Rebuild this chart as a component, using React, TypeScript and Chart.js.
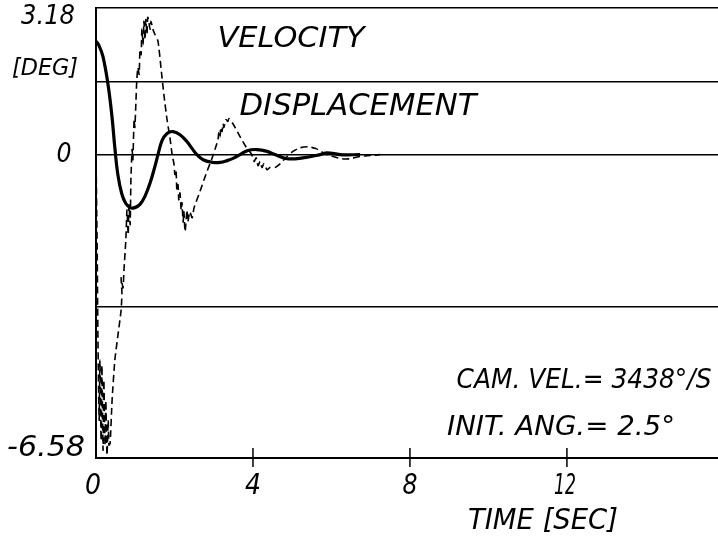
import { useEffect, useRef } from "react";
import { Chart, registerables } from "chart.js";

Chart.register(...registerables);

// ---- data ----
const yGridValues = [-6.58, -3.29, 0, 1.59, 3.18];
const yLabelTexts = ["3.18", "0", "-6.58"];
const yUnitText = "[DEG]";
const xTickValues = [0, 4, 8, 12];
const xTickTexts = ["0", "4", "8", "12"];
const xMarkedTicks = [4, 8, 12];
const xTitle = "TIME [SEC]";
const seriesNames = ["VELOCITY", "DISPLACEMENT"];
const noteTexts = ["CAM. VEL.= 3438°/S", "INIT. ANG.= 2.5°"];

const dispTime = [
  0, 0.08, 0.18, 0.31, 0.41, 0.48, 0.56, 0.66, 0.76, 0.87,
  0.99, 1.12, 1.25, 1.38, 1.5, 1.58, 1.68, 1.81, 1.96, 2.14,
  2.32, 2.45, 2.57, 2.73, 2.98, 3.16, 3.34, 3.52, 3.67, 3.87,
  4.1, 4.36, 4.56, 4.87, 5.27, 5.71, 5.89, 6.22, 6.73,
];
const dispDeg = [
  2.46, 2.36, 2.12, 1.5, 0.8, 0.15, -0.45, -0.86, -1.06, -1.15,
  -1.15, -1.08, -0.9, -0.61, -0.26, 0, 0.3, 0.46, 0.5, 0.43,
  0.28, 0.13, 0, -0.11, -0.17, -0.17, -0.13, -0.07, 0, 0.09,
  0.11, 0.07, 0, -0.09, -0.07, 0, 0.04, 0, 0,
];

const velTime = [
  0, 0.03, 0.05, 0.08, 0.1, 0.13, 0.15, 0.18, 0.2, 0.23,
  0.25, 0.28, 0.31, 0.33, 0.36, 0.41, 0.48, 0.56, 0.64, 0.66,
  0.64, 0.69, 0.71, 0.76, 0.79, 0.82, 0.84, 0.87, 0.89, 0.92,
  0.94, 0.97, 0.99, 1.02, 1.04, 1.07, 1.1, 1.12, 1.15, 1.17,
  1.2, 1.22, 1.25, 1.27, 1.3, 1.32, 1.38, 1.4, 1.45, 1.5,
  1.58, 1.66, 1.73, 1.81, 1.89, 1.94, 1.99, 2.01, 2.04, 2.06,
  2.09, 2.11, 2.14, 2.17, 2.19, 2.22, 2.24, 2.27, 2.32, 2.34,
  2.39, 2.45, 2.5, 2.65, 2.8, 2.96, 3.03, 3.11, 3.13, 3.16,
  3.18, 3.21, 3.24, 3.26, 3.31, 3.36, 3.39, 3.49, 3.67, 3.82,
  3.97, 4.03, 4.08, 4.13, 4.18, 4.23, 4.28, 4.36, 4.43, 4.56,
  4.69, 4.87, 5.02, 5.2, 5.4, 5.61, 5.83, 6.04, 6.27, 6.47,
  6.73, 6.98, 7.24,
];
const velDeg = [
  0, -2.07, -4.02, -5.76, -4.46, -6.2, -4.57, -6.41, -4.89, -6.3,
  -5.33, -6.52, -5.76, -6.3, -6.26, -5.33, -4.46, -3.91, -3.37, -3.0,
  -2.67, -2.89, -2.54, -1.85, -1.2, -1.74, -1.09, -1.52, -0.54, 0.11,
  -0.11, 0.76, 0.59, 1.2, 1.63, 1.89, 1.74, 2.28, 2.17, 2.72,
  2.39, 2.89, 2.5, 2.93, 2.61, 2.98, 2.72, 2.89, 2.72, 2.61,
  2.46, 1.85, 1.3, 0.76, 0.33, 0, -0.22, -0.43, -0.33, -0.76,
  -0.65, -0.98, -0.83, -1.2, -1.04, -1.46, -1.24, -1.67, -1.2, -1.46,
  -1.24, -1.37, -1.15, -0.8, -0.43, -0.07, 0.11, 0.33, 0.48, 0.39,
  0.59, 0.5, 0.67, 0.59, 0.76, 0.72, 0.78, 0.67, 0.39, 0.17,
  0, -0.15, -0.07, -0.24, -0.15, -0.28, -0.2, -0.33, -0.28, -0.28,
  -0.2, -0.04, 0.07, 0.15, 0.17, 0.13, 0.02, -0.04, -0.09, -0.09,
  -0.04, -0.02, 0,
];

const FONT_FAMILY = "'DejaVu Sans', 'Liberation Sans', sans-serif";

function drawText(
  ctx: CanvasRenderingContext2D,
  text: string,
  cx: number,
  cy: number,
  size: number,
  width: number
) {
  ctx.save();
  ctx.font = `italic 300 ${size}px ${FONT_FAMILY}`;
  ctx.fillStyle = "#000";
  ctx.textAlign = "center";
  ctx.textBaseline = "middle";
  const w = ctx.measureText(text).width || 1;
  ctx.translate(cx, cy);
  ctx.scale(width / w, 1);
  ctx.fillText(text, 0, 0);
  ctx.restore();
}

const annotationPlugin = {
  id: "handLabels",
  afterDraw(chart: any) {
    const { ctx, chartArea } = chart;
    const xs = chart.scales.x;
    const ys = chart.scales.y;
    const X = (v: number) => xs.getPixelForValue(v);
    const Y = (v: number) => ys.getPixelForValue(v);
    const bottom = chartArea.bottom;

    // tick marks crossing the time axis
    ctx.save();
    ctx.strokeStyle = "#000";
    ctx.lineWidth = 1.5;
    xMarkedTicks.forEach((v) => {
      ctx.beginPath();
      ctx.moveTo(X(v), bottom - 10);
      ctx.lineTo(X(v), bottom + 9);
      ctx.stroke();
    });
    ctx.restore();

    // y-axis labels
    drawText(ctx, yLabelTexts[0], 48, Y(3.18) + 9, 26, 54);
    drawText(ctx, yUnitText, 45, Y(1.59) - 12, 23, 66);
    drawText(ctx, yLabelTexts[1], 64, Y(0) + 1, 26, 15);
    drawText(ctx, yLabelTexts[2], 46, Y(-6.58) - 10, 29, 78);

    // x-axis labels
    const xOffsets = [-3, 0, 0, -2];
    const xWidths = [16, 16, 15, 22];
    xTickValues.forEach((v, i) => {
      drawText(ctx, xTickTexts[i], X(v) + xOffsets[i], bottom + 28, 29, xWidths[i]);
    });
    drawText(ctx, xTitle, 543, 522, 28, 150);

    // series names and notes
    drawText(ctx, seriesNames[0], 291, 39, 29, 147);
    drawText(ctx, seriesNames[1], 358, 107, 30, 237);
    drawText(ctx, noteTexts[0], 584, 381, 27, 255);
    drawText(ctx, noteTexts[1], 561, 428, 27, 228);
  },
};

export default function App() {
  const canvasRef = useRef<HTMLCanvasElement | null>(null);

  useEffect(() => {
    document.body.style.margin = "0";
    const canvas = canvasRef.current;
    if (!canvas) return;
    const chart = new Chart(canvas, {
      type: "line",
      data: {
        datasets: [
          {
            label: seriesNames[0],
            data: velTime.map((t, i) => ({ x: t, y: velDeg[i] })),
            borderColor: "#000",
            borderWidth: 1.6,
            borderDash: [7, 4],
            pointRadius: 0,
            tension: 0.2,
            fill: false,
          },
          {
            label: seriesNames[1],
            data: dispTime.map((t, i) => ({ x: t, y: dispDeg[i] })),
            borderColor: "#000",
            borderWidth: 3.2,
            pointRadius: 0,
            tension: 0.4,
            fill: false,
          },
        ],
      },
      options: {
        animation: false,
        responsive: false,
        maintainAspectRatio: false,
        layout: { padding: { left: 96, top: 8, right: 0, bottom: 82 } },
        plugins: {
          legend: { display: false },
          tooltip: { enabled: false },
          title: { display: false },
        },
        scales: {
          x: {
            type: "linear",
            min: 0,
            max: 15.85,
            grid: { display: false, drawTicks: false },
            border: { display: true, color: "#000", width: 2 },
            ticks: { display: false },
          },
          y: {
            type: "linear",
            min: -6.58,
            max: 3.18,
            afterBuildTicks: (scale: any) => {
              scale.ticks = yGridValues.map((v) => ({ value: v }));
            },
            grid: { display: true, drawTicks: false, color: "#000", lineWidth: 1.5 },
            border: { display: true, color: "#000", width: 2 },
            ticks: { display: false },
          },
        },
      },
      plugins: [annotationPlugin],
    });
    return () => chart.destroy();
  }, []);

  return (
    <div style={{ position: "absolute", left: 0, top: 0, width: 718, height: 540, background: "#fff" }}>
      <canvas ref={canvasRef} width={718} height={540} style={{ display: "block" }} />
    </div>
  );
}
